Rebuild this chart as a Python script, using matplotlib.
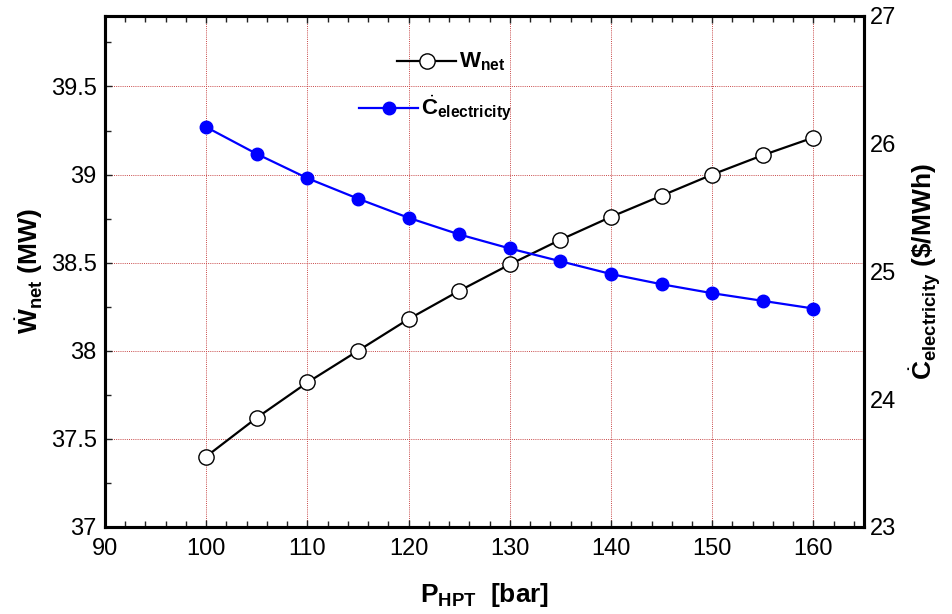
import numpy as np
import matplotlib.pyplot as plt
from matplotlib.lines import Line2D
from matplotlib.ticker import MultipleLocator

plt.rcParams['font.family'] = ['Liberation Sans', 'DejaVu Sans']
plt.rcParams['mathtext.fontset'] = 'custom'
plt.rcParams['mathtext.rm'] = 'Liberation Sans'
plt.rcParams['mathtext.it'] = 'Liberation Sans:italic'
plt.rcParams['mathtext.bf'] = 'Liberation Sans:bold'

# data
p_hpt = [100, 105, 110, 115, 120, 125, 130, 135, 140, 145, 150, 155, 160]
w_net = [37.40, 37.62, 37.82, 38.00, 38.18, 38.34, 38.49, 38.63, 38.76, 38.88, 39.00, 39.11, 39.21]
c_elec = [26.13, 25.92, 25.73, 25.57, 25.42, 25.29, 25.18, 25.08, 24.98, 24.90, 24.83, 24.77, 24.71]

fig = plt.figure(figsize=(9.52, 6.14), dpi=100)
ax = fig.add_axes([0.1103, 0.1417, 0.7973, 0.8323])
ax2 = ax.twinx()

ax.plot(p_hpt, w_net, '-o', color='black', lw=1.6, ms=11,
        markerfacecolor='white', markeredgecolor='black', markeredgewidth=1.0, zorder=5)
ax2.plot(p_hpt, c_elec, '-o', color='#0000ff', lw=1.6, ms=9,
         markerfacecolor='#0000ff', markeredgecolor='#0000ff', zorder=5)

ax.set_xlim(90, 165)
ax.set_ylim(37, 39.9)
ax2.set_ylim(23, 27)

ax.xaxis.set_major_locator(MultipleLocator(10))
ax.xaxis.set_minor_locator(MultipleLocator(2))
ax.yaxis.set_minor_locator(MultipleLocator(0.25))
ax.set_yticks([37, 37.5, 38, 38.5, 39, 39.5])
ax.set_yticklabels(['37', '37.5', '38', '38.5', '39', '39.5'])
ax2.set_yticks([23, 24, 25, 26, 27])

ax.tick_params(which='both', direction='in', top=True, labelsize=17, width=1, colors='#222222')
ax.tick_params(which='major', length=5)
ax.tick_params(which='minor', length=4)
ax.tick_params(axis='x', labelcolor='black', pad=8)
ax.tick_params(axis='y', labelcolor='black', pad=6)
ax2.tick_params(direction='in', length=0, labelsize=17, pad=4)

for a in (ax, ax2):
    for s in a.spines.values():
        s.set_linewidth(2.2)

for x in [100, 110, 120, 130, 140, 150, 160]:
    ax.axvline(x, color='#c84848', lw=0.7, ls=(0, (1, 1.2)), zorder=0)
for y in [37.5, 38, 38.5, 39, 39.5]:
    ax.axhline(y, color='#c84848', lw=0.7, ls=(0, (1, 1.2)), zorder=0)

ax.set_xlabel(r'P$_{\mathbf{HPT}}$  [bar]', fontsize=19, fontweight='bold', labelpad=15)
ax.set_ylabel(r'$\dot{\mathbf{W}}_{\mathbf{net}}$ (MW)', fontsize=19, fontweight='bold', labelpad=4)
ax2.set_ylabel(r'$\dot{\mathbf{C}}_{\mathbf{electricity}}$ (\$/MWh)', fontsize=19, fontweight='bold', labelpad=8)

# legend drawn by hand, entries offset like the original
leg = [
    (0.385, 0.462, 0.424, 0.911, 'black', 'white', 11, r'$\mathbf{W}_{\mathbf{net}}$'),
    (0.335, 0.412, 0.374, 0.819, '#0000ff', '#0000ff', 9, r'$\dot{\mathbf{C}}_{\mathbf{electricity}}$'),
]
for x0, x1, xm, yy, col, fc, ms, lab in leg:
    ax.add_line(Line2D([x0, x1], [yy, yy], color=col, lw=1.6, transform=ax.transAxes, zorder=6))
    ax.add_line(Line2D([xm], [yy], marker='o', ms=ms, color=col, markerfacecolor=fc,
                       markeredgewidth=1.0, transform=ax.transAxes, zorder=7))
    ax.text(x1 + 0.004, yy, lab, transform=ax.transAxes, fontsize=16,
            va='center', ha='left', zorder=7)

fig.savefig('out.png', dpi=100)
